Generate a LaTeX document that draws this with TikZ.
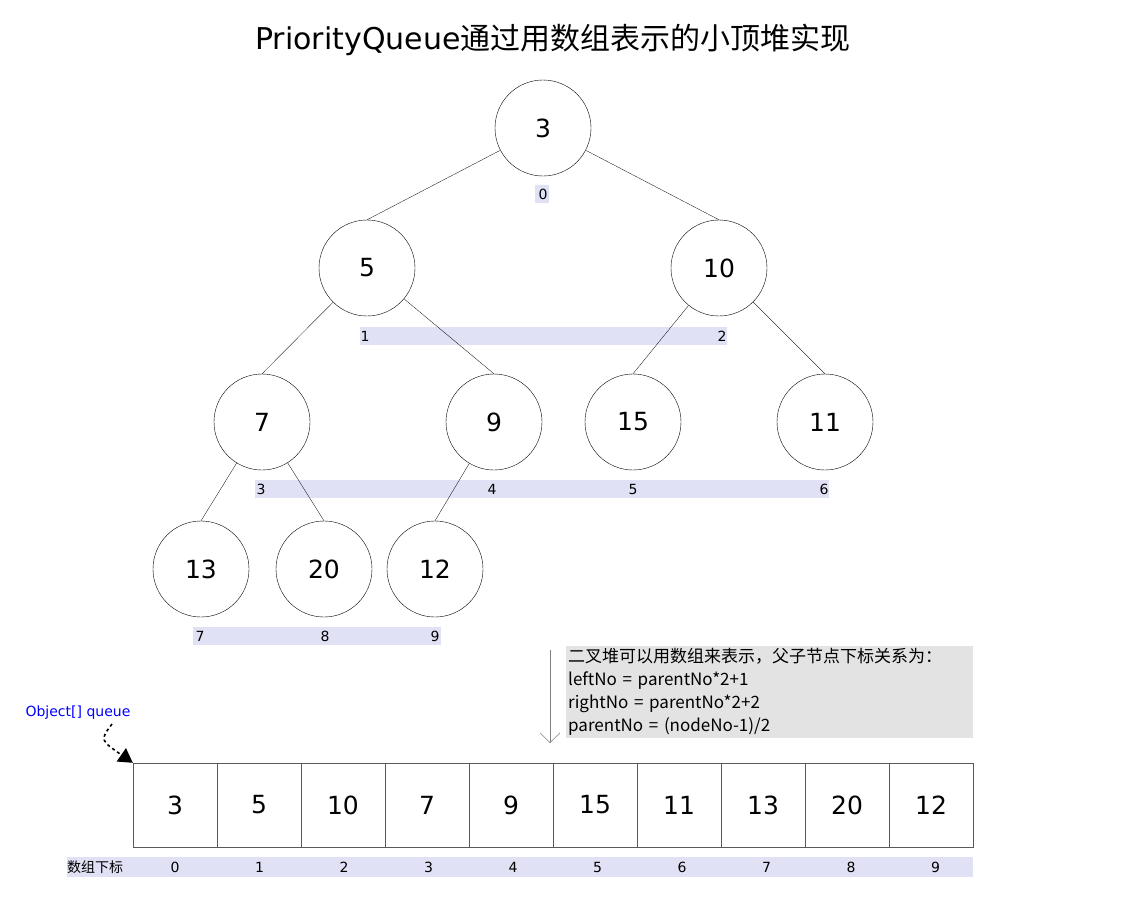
\documentclass[tikz,border=0pt]{standalone}
\usepackage{fontspec}
\setmainfont{DejaVu Sans}
\newfontfamily\cjk{Noto Sans CJK SC}
\usetikzlibrary{arrows.meta}
\definecolor{idx}{RGB}{225,225,245}
\begin{document}
\begin{tikzpicture}[x=1pt,y=-1pt,
  hn/.style={draw,circle,minimum size=96pt,inner sep=0pt,font=\fontsize{25}{25}\selectfont,line width=0.4pt},
  cell/.style={draw=gray!70!black,minimum width=84pt,minimum height=84pt,inner sep=0pt,font=\fontsize{25}{25}\selectfont},
  ix/.style={font=\fontsize{14}{14}\selectfont},
  ed/.style={line width=0.3pt}]
\useasboundingbox (0,0) rectangle (1146,900);
\node at (553,40) {\fontsize{30}{30}\selectfont PriorityQueue\cjk{通过用数组表示的小顶堆实现}};
% bars
\fill[idx] (535,185) rectangle (549,203);
\fill[idx] (360,327) rectangle (727,345);
\fill[idx] (255,480) rectangle (829,498);
\fill[idx] (193,627) rectangle (441,645);
\fill[idx] (67,857) rectangle (973,877);
% nodes
\node[hn] (n0) at (543,128) {3};
\node[hn] (n1) at (367,268) {5};
\node[hn] (n2) at (719,268) {10};
\node[hn] (n3) at (262,422) {7};
\node[hn] (n4) at (494,422) {9};
\node[hn] (n5) at (633,422) {15};
\node[hn] (n6) at (825,422) {11};
\node[hn] (n7) at (201,569) {13};
\node[hn] (n8) at (324,569) {20};
\node[hn] (n9) at (435,569) {12};
\foreach \p/\c in {0/1,0/2,1/3,1/4,2/5,2/6,3/7,3/8,4/9}
  \draw[ed] (n\p) -- (n\c.north);
\foreach \t/\x/\y in {0/543/194,1/365/336,2/722/336,3/261/489,4/492/489,5/633/489,6/824/489,7/200/636,8/325/636,9/435/636}
  \node[ix] (i\t) at (\x,\y) {\t};
% array
\foreach \v [count=\k from 0] in {3,5,10,7,9,15,11,13,20,12}{
  \node[cell] (c\k) at (175+84*\k,805) {\v};
  \node[ix] (a\k) at (175+84*\k+0.5*\k,867) {\k};
}
\node[ix,anchor=west,inner sep=0pt] (lbl) at (67,867) {\cjk{数组下标}};
% note
\node[fill=gray!22,anchor=north west,minimum width=407pt,minimum height=92pt,inner sep=1pt,align=left,font=\fontsize{17}{23}\selectfont,text width=403pt] (note) at (566,646)
 {\cjk{二叉堆可以用数组来表示，父子节点下标关系为：}\\leftNo = parentNo*2+1\\rightNo = parentNo*2+2\\parentNo = (nodeNo-1)/2};
\coordinate (ta) at (550,650);
\coordinate (tb) at (550,743);
\draw[gray,-{Straight Barb[length=10pt,width=20pt]}] (ta) -- (tb);
% object queue
\node[blue,font=\fontsize{14}{14}\selectfont] (oq) at (78,713) {Object[] queue};
\draw[dashed,line width=1.6pt,-{Triangle[length=14pt,width=16pt]}] (112,724) .. controls (100,740) .. (c0.north west);
\end{tikzpicture}
\end{document}
